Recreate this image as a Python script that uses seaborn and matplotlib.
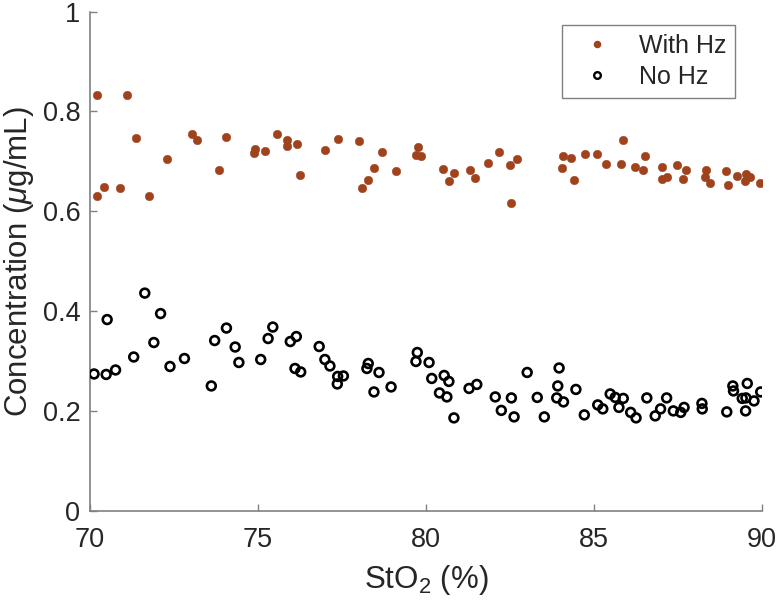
import numpy as np
import pandas as pd
import matplotlib
matplotlib.use("Agg")
import matplotlib.pyplot as plt
import seaborn as sns
from matplotlib.lines import Line2D

# ---- data ----
with_hz_x = [70.20, 71.09, 71.38, 73.03, 73.18, 74.06, 75.57, 75.85, 75.86, 76.16,
             72.28, 73.84, 74.87, 74.92, 75.20, 76.24, 70.20, 70.43, 70.88, 71.75,
             77.00, 77.39, 78.01, 78.70, 78.45, 78.28, 78.10, 79.10, 79.77, 79.70,
             79.84, 80.50, 80.84, 80.69, 81.31, 81.47, 81.85, 82.18, 82.51, 82.71,
             82.54, 84.07, 84.31, 84.04, 84.41, 84.72, 85.08, 85.35, 85.87, 85.80,
             86.23, 86.46, 86.52, 87.01, 87.02, 87.18, 87.46, 87.75, 87.65, 88.33,
             88.29, 88.45, 88.92, 88.99, 89.26, 89.52, 89.64, 89.49, 89.94]
with_hz_y = [0.832, 0.833, 0.746, 0.755, 0.742, 0.749, 0.755, 0.742, 0.730, 0.735,
             0.705, 0.683, 0.716, 0.724, 0.720, 0.673, 0.631, 0.648, 0.647, 0.631,
             0.723, 0.745, 0.741, 0.719, 0.686, 0.663, 0.647, 0.681, 0.728, 0.712,
             0.711, 0.685, 0.677, 0.661, 0.683, 0.667, 0.696, 0.719, 0.693, 0.704,
             0.616, 0.711, 0.706, 0.687, 0.662, 0.714, 0.715, 0.694, 0.743, 0.694,
             0.689, 0.683, 0.711, 0.688, 0.664, 0.668, 0.692, 0.683, 0.664, 0.682,
             0.668, 0.656, 0.680, 0.653, 0.671, 0.675, 0.668, 0.661, 0.656]

no_hz_x = [70.12, 70.48, 70.76, 70.51, 71.30, 71.63, 71.90, 72.10, 72.38, 72.81,
           73.61, 73.71, 74.06, 74.32, 74.43, 75.08, 75.30, 75.44, 75.96, 76.14,
           76.10, 76.27, 76.82, 76.99, 77.14, 77.54, 77.37, 77.36, 78.28, 78.24,
           78.60, 78.45, 78.96, 79.74, 79.70, 80.09, 80.17, 80.54, 80.68, 80.40,
           80.62, 80.83, 81.28, 81.51, 82.06, 82.24, 82.54, 82.62, 83.01, 83.31,
           83.96, 83.92, 83.89, 84.09, 83.52, 84.46, 84.71, 85.11, 85.26, 85.48,
           85.63, 85.87, 85.74, 86.09, 86.25, 86.57, 86.82, 86.98, 87.16, 87.36,
           87.58, 87.68, 88.21, 88.22, 88.95, 89.13, 89.15, 89.56, 89.41, 89.52,
           89.76, 89.96, 89.51]
no_hz_y = [0.274, 0.273, 0.282, 0.383, 0.308, 0.436, 0.337, 0.395, 0.289, 0.305,
           0.250, 0.341, 0.366, 0.328, 0.297, 0.303, 0.345, 0.368, 0.339, 0.349,
           0.285, 0.278, 0.329, 0.303, 0.290, 0.270, 0.269, 0.254, 0.295, 0.285,
           0.277, 0.238, 0.248, 0.317, 0.299, 0.297, 0.265, 0.271, 0.259, 0.236,
           0.228, 0.186, 0.245, 0.253, 0.228, 0.201, 0.226, 0.188, 0.277, 0.227,
           0.286, 0.250, 0.226, 0.218, 0.188, 0.243, 0.192, 0.212, 0.204, 0.234,
           0.227, 0.225, 0.207, 0.197, 0.186, 0.226, 0.190, 0.204, 0.226, 0.200,
           0.197, 0.207, 0.215, 0.204, 0.198, 0.250, 0.240, 0.255, 0.225, 0.226,
           0.220, 0.238, 0.200]

series_labels = ["With Hz", "No Hz"]
x_ticks = [70, 75, 80, 85, 90]
y_ticks = [0, 0.2, 0.4, 0.6, 0.8, 1]
y_tick_labels = ["0", "0.2", "0.4", "0.6", "0.8", "1"]

orange = "#A0421C"

sns.set_theme(style="white")
plt.rcParams["font.family"] = ["Liberation Sans", "DejaVu Sans"]
plt.rcParams["mathtext.fontset"] = "custom"
plt.rcParams["mathtext.rm"] = "Liberation Sans"
plt.rcParams["mathtext.it"] = "Liberation Sans:italic"

fig = plt.figure(figsize=(7.8, 6.12), dpi=100)
ax = fig.add_axes([0.1154, 0.1655, 0.8616, 0.8155])

df_w = pd.DataFrame({"x": with_hz_x, "y": with_hz_y})
df_n = pd.DataFrame({"x": no_hz_x, "y": no_hz_y})

sns.scatterplot(data=df_w, x="x", y="y", ax=ax, color=orange, s=38,
                edgecolor=orange, linewidth=0.3, legend=False, zorder=3)
sns.scatterplot(data=df_n, x="x", y="y", ax=ax, marker="o", s=40,
                facecolor="none", edgecolor="black", linewidth=1.9,
                legend=False, zorder=3)

ax.set_xlim(70, 90)
ax.set_ylim(0, 1)
ax.set_xticks(x_ticks)
ax.set_yticks(y_ticks)
ax.set_yticklabels(y_tick_labels)
ax.tick_params(bottom=True, left=True, direction="in", length=5, width=1,
               colors="#808080", labelcolor="#262626", labelsize=19.5)
ax.tick_params(axis="x", pad=12)
ax.tick_params(axis="y", pad=7)

for side in ["top", "right"]:
    ax.spines[side].set_visible(False)
for side in ["left", "bottom"]:
    ax.spines[side].set_color("#808080")
    ax.spines[side].set_linewidth(1.2)

ax.set_xlabel("StO$_2$ (%)", fontsize=22.5, color="#262626", labelpad=7)
ax.set_ylabel("Concentration ($\\mu$g/mL)", fontsize=22.5, color="#262626", labelpad=5)

handles = [
    Line2D([], [], linestyle="none", marker="o", markersize=4.4,
           markerfacecolor=orange, markeredgecolor=orange),
    Line2D([], [], linestyle="none", marker="o", markersize=4.8,
           markerfacecolor="none", markeredgecolor="black", markeredgewidth=1.7),
]
leg = ax.legend(handles, series_labels, loc="upper right",
                bbox_to_anchor=(0.960, 0.974), fontsize=18, frameon=True,
                fancybox=False, edgecolor="#808080", framealpha=1,
                handletextpad=0.6, borderpad=0.36, labelspacing=0.3,
                handlelength=2.1, borderaxespad=0)
leg.get_frame().set_linewidth(1.0)
for t in leg.get_texts():
    t.set_color("#262626")

fig.savefig("out.png", dpi=100)
